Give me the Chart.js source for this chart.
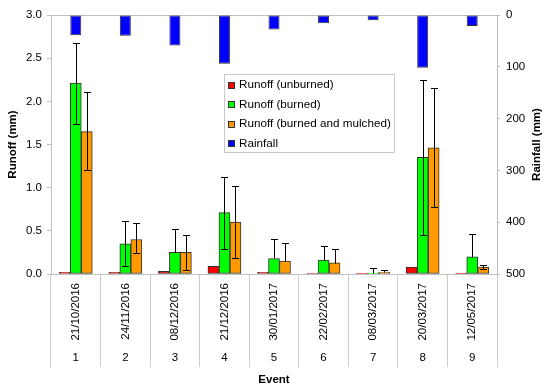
<!DOCTYPE html>
<html>
<head>
<meta charset="utf-8">
<script src="https://cdn.jsdelivr.net/npm/chart.js@4.4.1/dist/chart.umd.min.js"></script>
<style>
html, body { margin: 0; padding: 0; background: #fff; }
#wrap { width: 550px; height: 391px; }
</style>
</head>
<body>
<div id="wrap"><canvas id="chart" width="550" height="391"></canvas></div>
<script>
const dates = ['21/10/2016', '24/11/2016', '08/12/2016', '21/12/2016', '30/01/2017',
  '22/02/2017', '08/03/2017', '20/03/2017', '12/05/2017'];
const events = ['1', '2', '3', '4', '5', '6', '7', '8', '9'];

const unburned = [0.02, 0.02, 0.03, 0.09, 0.02, 0.005, 0.003, 0.08, 0.01];
const burned = [2.21, 0.35, 0.25, 0.71, 0.18, 0.16, 0.01, 1.35, 0.20];
const mulched = [1.65, 0.40, 0.25, 0.60, 0.15, 0.13, 0.02, 1.46, 0.08];
const rainfall = [39, 40, 59, 94, 28, 16, 10, 102, 21];

// error bar ends (null lower = only the upper whisker is visible)
const burnedHigh = [2.68, 0.61, 0.52, 1.12, 0.40, 0.33, 0.07, 2.25, 0.46];
const burnedLow = [1.74, 0.09, null, 0.29, null, null, null, 0.45, null];
const mulchedHigh = [2.11, 0.59, 0.45, 1.02, 0.36, 0.29, 0.05, 2.15, 0.10];
const mulchedLow = [1.20, 0.24, 0.05, 0.18, null, null, null, 0.78, 0.06];

const FONT = "'Liberation Sans', Arial, sans-serif";
const axisGrey = '#c0c0c0';
const edge = '#333333';

const errorBars = {
  id: 'errorBars',
  afterDatasetsDraw(chart) {
    const ctx = chart.ctx;
    const y = chart.scales.y;
    ctx.save();
    ctx.strokeStyle = '#000';
    ctx.lineWidth = 1;
    chart.data.datasets.forEach((ds, i) => {
      if (!ds.errHigh) return;
      const meta = chart.getDatasetMeta(i);
      meta.data.forEach((bar, j) => {
        const hi = ds.errHigh[j];
        if (hi == null) return;
        const lo = ds.errLow[j];
        const x = Math.round(bar.x) + 0.5;
        const yt = Math.round(y.getPixelForValue(hi)) + 0.5;
        const yb = Math.round(y.getPixelForValue(lo == null ? ds.data[j] : lo)) + 0.5;
        ctx.beginPath();
        ctx.moveTo(x, yt); ctx.lineTo(x, yb);
        ctx.moveTo(x - 3.5, yt); ctx.lineTo(x + 3.5, yt);
        if (lo != null) { ctx.moveTo(x - 3.5, yb); ctx.lineTo(x + 3.5, yb); }
        ctx.stroke();
      });
    });
    ctx.restore();
  }
};

const boxLegend = {
  id: 'boxLegend',
  afterDraw(chart, args, opts) {
    const ctx = chart.ctx;
    ctx.save();
    ctx.fillStyle = '#fff';
    ctx.fillRect(opts.x, opts.y, opts.w, opts.h);
    ctx.strokeStyle = '#c8c8c8';
    ctx.lineWidth = 1;
    ctx.strokeRect(opts.x + 0.5, opts.y + 0.5, opts.w, opts.h);
    ctx.font = '11.7px ' + FONT;
    ctx.textBaseline = 'middle';
    chart.data.datasets.forEach((ds, i) => {
      const cy = opts.y + opts.first + i * opts.row;
      ctx.fillStyle = ds.backgroundColor;
      ctx.fillRect(opts.x + 4, Math.round(cy - 3.5), 7, 7);
      ctx.strokeStyle = edge;
      ctx.strokeRect(opts.x + 4.5, Math.round(cy - 3.5) + 0.5, 6, 6);
      ctx.fillStyle = '#000';
      ctx.fillText(ds.label, opts.x + 15, cy);
    });
    ctx.restore();
  }
};

// right axis title reads bottom-to-top like the left one
const rightTitle = {
  id: 'rightTitle',
  afterDraw(chart, args, opts) {
    const ctx = chart.ctx;
    const area = chart.chartArea;
    ctx.save();
    ctx.translate(opts.x, (area.top + area.bottom) / 2);
    ctx.rotate(-Math.PI / 2);
    ctx.font = 'bold 11.5px ' + FONT;
    ctx.fillStyle = '#000';
    ctx.textAlign = 'center';
    ctx.textBaseline = 'middle';
    ctx.fillText(opts.text, 0, 0);
    ctx.restore();
  }
};

const barStyle = { borderColor: edge, borderWidth: 1, borderSkipped: false, barThickness: 11 };

new Chart(document.getElementById('chart'), {
  type: 'bar',
  data: {
    labels: dates,
    datasets: [
      { label: 'Runoff (unburned)', data: unburned, backgroundColor: '#ff0000', yAxisID: 'y', ...barStyle },
      { label: 'Runoff (burned)', data: burned, backgroundColor: '#00ff00', yAxisID: 'y',
        errHigh: burnedHigh, errLow: burnedLow, ...barStyle },
      { label: 'Runoff (burned and mulched)', data: mulched, backgroundColor: '#ff9900', yAxisID: 'y',
        errHigh: mulchedHigh, errLow: mulchedLow, ...barStyle },
      { label: 'Rainfall', data: rainfall, backgroundColor: '#0000ff', yAxisID: 'y2',
        grouped: false, maxBarThickness: 11, borderColor: edge, borderWidth: 1, borderSkipped: false }
    ]
  },
  options: {
    responsive: false,
    animation: false,
    devicePixelRatio: 1,
    layout: { padding: { top: 15, left: 0, right: 0, bottom: 0 } },
    plugins: {
      legend: { display: false },
      tooltip: { enabled: false },
      boxLegend: { x: 224, y: 74, w: 170, h: 78, first: 11, row: 19.5 },
      rightTitle: { x: 537, text: 'Rainfall (mm)' }
    },
    scales: {
      x: {
        position: 'bottom',
        weight: 0,
        offset: true,
        grid: { offset: true, drawOnChartArea: false, tickLength: 75, color: '#cccccc' },
        border: { display: true, color: axisGrey },
        ticks: { minRotation: 90, maxRotation: 90, padding: -66, color: '#000', font: { family: FONT, size: 11.5 } },
        afterFit: s => { s.height = 75; }
      },
      x3: {
        type: 'category',
        position: 'bottom',
        weight: 1,
        labels: events,
        offset: true,
        grid: { offset: true, drawOnChartArea: false, tickLength: 18, color: '#cccccc' },
        border: { display: false },
        ticks: { padding: -16, color: '#000', font: { family: FONT, size: 11.5 } },
        title: { display: true, text: 'Event', color: '#000', padding: { top: 0, bottom: 4 },
          font: { family: FONT, size: 11.5, weight: 'bold' } },
        afterFit: s => { s.height = 42; }
      },
      y: {
        position: 'left',
        min: 0, max: 3,
        grid: {
          tickLength: 4, tickColor: axisGrey,
          color: c => (c.tick && c.tick.value === 3 ? axisGrey : 'rgba(0,0,0,0)')
        },
        border: { display: true, color: axisGrey },
        ticks: { stepSize: 0.5, padding: 5, color: '#000', font: { family: FONT, size: 11.5 },
          callback: v => v.toFixed(1) },
        title: { display: true, text: 'Runoff (mm)', color: '#000', padding: { top: 5.5, bottom: 0 },
          font: { family: FONT, size: 11.5, weight: 'bold' } },
        afterFit: s => { s.width = 51; }
      },
      y2: {
        position: 'right',
        reverse: true,
        min: 0, max: 500,
        grid: { drawOnChartArea: false, tickLength: 3, tickColor: axisGrey },
        border: { display: true, color: axisGrey },
        ticks: { stepSize: 100, padding: 6, color: '#000', font: { family: FONT, size: 11.5 } },
        afterFit: s => { s.width = 53; }
      }
    }
  },
  plugins: [errorBars, boxLegend, rightTitle]
});
</script>
</body>
</html>
